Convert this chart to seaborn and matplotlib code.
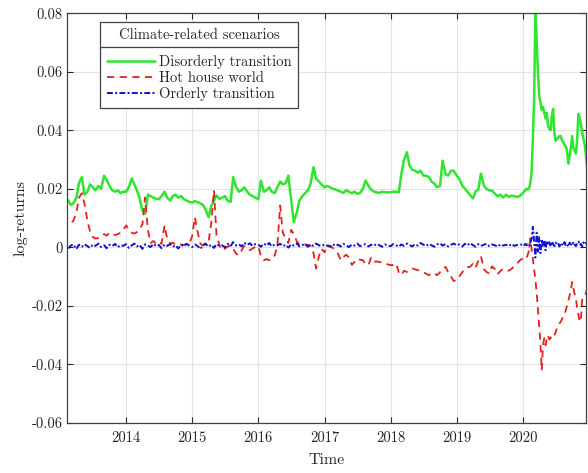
#Load the libraries
import pandas as pd
import matplotlib
matplotlib.use("Agg")
import matplotlib.pyplot as plt
from matplotlib.lines import Line2D
import seaborn as sns

#Data: semi-monthly 2013-2019, weekly 2020
dates = pd.date_range("2013-01-01", "2019-12-31", freq="SMS").append(
    pd.date_range("2020-01-01", periods=52, freq="7D"))

disorderly = [
    # 2013
    0.017, 0.0165, 0.017, 0.016, 0.0145, 0.015, 0.017, 0.022, 0.024, 0.018, 0.019, 0.0215,
    0.0205, 0.0195, 0.021, 0.020, 0.0245, 0.023, 0.021, 0.0195, 0.019, 0.0195, 0.0185, 0.019,
    # 2014
    0.019, 0.0205, 0.0235, 0.0215, 0.0195, 0.017, 0.0125, 0.0115, 0.018, 0.0175, 0.017, 0.0165,
    0.0165, 0.0175, 0.019, 0.017, 0.016, 0.0175, 0.018, 0.017, 0.0175, 0.0165, 0.016, 0.0155,
    # 2015
    0.0153, 0.0158, 0.0154, 0.015, 0.0145, 0.013, 0.0103, 0.014, 0.016, 0.0177, 0.0165, 0.017,
    0.0175, 0.016, 0.0155, 0.024, 0.0205, 0.019, 0.0195, 0.0205, 0.019, 0.018, 0.0175, 0.017,
    # 2016
    0.0164, 0.0228, 0.019, 0.0195, 0.0205, 0.019, 0.0185, 0.0205, 0.0225, 0.0215, 0.022, 0.0245,
    0.016, 0.0086, 0.012, 0.016, 0.0175, 0.0185, 0.0195, 0.0215, 0.0274, 0.0235, 0.0225, 0.0215,
    # 2017
    0.0205, 0.021, 0.0205, 0.020, 0.0198, 0.0194, 0.019, 0.0186, 0.0195, 0.019, 0.0185, 0.019,
    0.0183, 0.0185, 0.020, 0.0228, 0.021, 0.0198, 0.019, 0.0188, 0.0186, 0.019, 0.0188, 0.0188,
    # 2018
    0.0188, 0.019, 0.019, 0.0188, 0.0249, 0.0296, 0.0325, 0.028, 0.0265, 0.0262, 0.0255, 0.0262,
    0.0245, 0.0245, 0.024, 0.0225, 0.0217, 0.0205, 0.021, 0.0296, 0.025, 0.0245, 0.0262, 0.0262,
    # 2019
    0.0245, 0.0235, 0.021, 0.0201, 0.019, 0.018, 0.0167, 0.019, 0.0198, 0.0252, 0.021, 0.020,
    0.0194, 0.0194, 0.0183, 0.0175, 0.018, 0.017, 0.018, 0.0172, 0.0177, 0.0175, 0.0172, 0.0175,
    # 2020 (weekly)
    0.0185, 0.019, 0.0195, 0.020, 0.0198, 0.0201, 0.022, 0.0257, 0.037, 0.050, 0.0805, 0.071,
    0.060, 0.052, 0.0495, 0.047, 0.048, 0.046, 0.044, 0.046, 0.0415, 0.0405, 0.040, 0.045,
    0.0473, 0.039, 0.0364, 0.037, 0.0375, 0.038, 0.038, 0.0365, 0.036, 0.035, 0.0345, 0.033,
    0.0286, 0.031, 0.034, 0.038, 0.034, 0.033, 0.032, 0.037, 0.0456, 0.044, 0.042, 0.039,
    0.037, 0.035, 0.031, 0.027,
]

hot_house = [
    # 2013
    0.007, 0.0075, 0.0078, 0.0082, 0.0085, 0.009, 0.012, 0.017, 0.0185, 0.015, 0.009, 0.0055,
    0.0035, 0.003, 0.0032, 0.0038, 0.0045, 0.004, 0.005, 0.0047, 0.0042, 0.0045, 0.005, 0.006,
    # 2014
    0.0075, 0.006, 0.005, 0.0047, 0.0052, 0.006, 0.008, 0.017, 0.006, 0.0015, 0.0022, 0.0012,
    0.0018, 0.0012, 0.0075, 0.003, 0.0013, 0.0016, 0.0009, 0.0012, 0.001, 0.0008, 0.0012, 0.001,
    # 2015
    0.004, 0.0103, 0.0048, 0.0012, 0.0006, 0.001, 0.002, 0.0078, 0.0195, 0.004, 0.0006, -0.001,
    -0.0004, 0.0002, 0.0007, -0.0005, -0.0022, -0.0027, -0.001, 0.0005, -0.0003, -0.001, -0.0004, 0.0002,
    # 2016
    0.0004, -0.003, -0.0044, -0.004, -0.0044, -0.004, -0.0027, 0.0006, 0.0143, 0.005, 0.003, 0.0015,
    0.006, 0.0045, 0.002, 0.001, 0.0006, 0.001, 0.0008, 0.0006, -0.002, -0.0072, -0.003, -0.0005,
    # 2017
    -0.0017, 0.0008, 0.0004, -0.0002, -0.0008, -0.002, -0.0044, -0.0033, -0.0025, -0.0035, -0.006, -0.005,
    -0.0039, -0.0042, -0.0044, -0.0058, -0.006, -0.0035, -0.005, -0.0048, -0.005, -0.0052, -0.0055, -0.0058,
    # 2018
    -0.0061, -0.006, -0.0055, -0.0085, -0.0095, -0.008, -0.0084, -0.0078, -0.0072, -0.0075, -0.0078, -0.008,
    -0.0084, -0.009, -0.0095, -0.0088, -0.009, -0.0095, -0.0085, -0.0073, -0.0067, -0.0085, -0.010, -0.0115,
    # 2019
    -0.0112, -0.010, -0.0085, -0.0072, -0.0068, -0.0067, -0.0056, -0.007, -0.0045, -0.003, -0.0075, -0.0084,
    -0.009, -0.0065, -0.0075, -0.0092, -0.008, -0.0073, -0.0078, -0.008, -0.0073, -0.0065, -0.0055, -0.0045,
    # 2020 (weekly)
    -0.0038, -0.0035, -0.0039, -0.0037, -0.0025, -0.001, 0.003, -0.0005, -0.004, -0.0075, -0.011, -0.0155,
    -0.021, -0.027, -0.033, -0.042, -0.0335, -0.031, -0.0334, -0.031, -0.030, -0.0315, -0.031, -0.030,
    -0.0305, -0.030, -0.029, -0.0277, -0.027, -0.026, -0.0254, -0.0245, -0.0235, -0.023, -0.0215, -0.0198,
    -0.018, -0.0165, -0.0145, -0.0118, -0.014, -0.016, -0.0175, -0.0209, -0.023, -0.0255, -0.024, -0.0175,
    -0.017, -0.0165, -0.0155, -0.0141,
]

orderly = [
    # 2013
    0.0008, 0.0003, 0.0012, -0.0004, 0.0006, 0.0010, -0.0006, 0.0009, 0.0002, 0.0011, 0.0004, -0.0002,
    0.0010, 0.0005, 0.0013, 0.0001, 0.0007, -0.0003, 0.0009, 0.0004, 0.0012, 0.0000, 0.0008, 0.0005,
    # 2014
    0.0011, -0.0002, 0.0007, 0.0013, 0.0003, 0.0009, -0.0005, 0.0010, 0.0006, 0.0001, 0.0012, 0.0004,
    0.0008, -0.0003, 0.0010, 0.0005, 0.0011, 0.0002, 0.0007, -0.0004, 0.0009, 0.0003, 0.0012, 0.0006,
    # 2015
    0.0001, 0.0010, 0.0004, -0.0006, 0.0008, 0.0013, 0.0002, 0.0009, -0.0002, 0.0011, 0.0005, 0.0007,
    0.0000, 0.0012, 0.0004, 0.0018, 0.0006, 0.0010, 0.0003, 0.0016, 0.0008, 0.0014, 0.0005, 0.0011,
    # 2016
    0.0009, 0.0002, 0.0013, 0.0006, 0.0015, 0.0003, 0.0010, 0.0007, 0.0012, 0.0004, 0.0009, -0.0001,
    0.0011, 0.0006, 0.0014, 0.0003, 0.0008, 0.0012, 0.0002, 0.0010, 0.0005, 0.0013, 0.0007, 0.0004,
    # 2017
    0.0010, 0.0006, 0.0002, 0.0011, 0.0005, 0.0009, 0.0003, 0.0012, 0.0007, 0.0001, 0.0010, 0.0006,
    0.0013, 0.0004, 0.0008, 0.0011, 0.0003, 0.0009, 0.0005, 0.0012, 0.0007, 0.0002, 0.0010, 0.0006,
    # 2018
    0.0004, 0.0011, 0.0007, 0.0002, 0.0010, 0.0005, 0.0013, 0.0008, 0.0003, 0.0011, 0.0006, 0.0015,
    0.0009, 0.0004, 0.0012, 0.0007, 0.0002, 0.0010, 0.0014, 0.0006, 0.0011, 0.0003, 0.0009, 0.0013,
    # 2019
    0.0007, 0.0010, 0.0003, 0.0012, 0.0006, 0.0015, 0.0008, 0.0002, 0.0011, 0.0005, 0.0009, 0.0013,
    0.0004, 0.0010, 0.0007, 0.0002, 0.0011, 0.0006, 0.0009, 0.0004, 0.0012, 0.0005, 0.0008, 0.0010,
    # 2020 (weekly)
    0.0009, 0.0005, 0.0012, 0.0007, 0.0010, 0.0003, 0.0014, 0.0030, 0.0070, 0.0020, -0.0035, 0.0050,
    -0.0015, 0.0035, -0.0020, 0.0028, 0.0005, 0.0025, -0.0010, 0.0022, 0.0008, 0.0018, 0.0002, 0.0020,
    0.0011, 0.0004, 0.0016, 0.0009, 0.0013, 0.0003, 0.0015, 0.0010, 0.0005, 0.0018, 0.0008, 0.0012,
    0.0002, 0.0016, 0.0011, 0.0006, 0.0019, 0.0009, 0.0004, 0.0014, 0.0020, 0.0007, 0.0012, 0.0003,
    0.0017, 0.0010, 0.0015, 0.0008,
]

series_names = ["Disorderly transition", "Hot house world", "Orderly transition"]
year_ticks = ["2014", "2015", "2016", "2017", "2018", "2019", "2020"]
y_ticks = [-0.06, -0.04, -0.02, 0, 0.02, 0.04, 0.06, 0.08]
y_tick_labels = ["-0.06", "-0.04", "-0.02", "0", "0.02", "0.04", "0.06", "0.08"]

df = pd.DataFrame({"Time": dates,
                   series_names[0]: disorderly,
                   series_names[1]: hot_house,
                   series_names[2]: orderly})

#Style
sns.set_style("ticks")
plt.rcParams["font.family"] = ["cmr10", "DejaVu Serif"]
plt.rcParams["axes.unicode_minus"] = False

fig = plt.figure(figsize=(5.88, 4.73), dpi=100)
ax = fig.add_axes([0.114, 0.1057, 0.8827, 0.8665])

sns.lineplot(data=df, x="Time", y=series_names[0], ax=ax, color="#2ee62e",
             linewidth=1.8, label=series_names[0])
sns.lineplot(data=df, x="Time", y=series_names[1], ax=ax, color="#e8201c",
             linewidth=1.3, linestyle=(0, (4, 3)), label=series_names[1])
sns.lineplot(data=df, x="Time", y=series_names[2], ax=ax, color="#1010d0",
             linewidth=1.4, linestyle=(0, (3, 1.2, 1, 1.2)), label=series_names[2])

ax.set_xlim(pd.Timestamp("2013-02-08"), pd.Timestamp("2020-12-16"))
ax.set_ylim(-0.06, 0.08)
ax.set_xticks([pd.Timestamp(y + "-01-01") for y in year_ticks])
ax.set_xticklabels(year_ticks)
ax.set_yticks(y_ticks)
ax.set_yticklabels(y_tick_labels)
ax.tick_params(direction="in", length=4, width=0.8, top=True, right=True,
               labelsize=10.5, colors="#262626")
ax.tick_params(axis="x", pad=6)
ax.tick_params(axis="y", pad=3)
ax.grid(True, color="#e3e3e3", linewidth=0.8)
ax.set_axisbelow(True)
for sp in ax.spines.values():
    sp.set_color("#404040")
    sp.set_linewidth(0.9)

ax.set_xlabel("Time", fontsize=11.5, labelpad=6)
ax.set_ylabel("log-returns", fontsize=11.5, labelpad=3)

leg = ax.legend(title="Climate-related scenarios", loc="upper left",
                bbox_to_anchor=(0.064, 0.978), borderaxespad=0,
                fontsize=10.5, title_fontsize=10.5, fancybox=False,
                edgecolor="#404040", framealpha=1, handlelength=3.3,
                handletextpad=0.3, labelspacing=0.15, borderpad=0.45)
leg.get_frame().set_linewidth(0.9)
leg._legend_box.sep = 9

#Separator line under the legend title
fig.canvas.draw()
r = fig.canvas.get_renderer()
fb = leg.get_frame().get_window_extent(r)
tb = leg.get_title().get_window_extent(r)
inv = fig.transFigure.inverted()
ysep = tb.y0 - 5
(x0, y0) = inv.transform((fb.x0, ysep))
(x1, _) = inv.transform((fb.x1, ysep))
fig.add_artist(Line2D([x0, x1], [y0, y0], transform=fig.transFigure,
                      color="#404040", linewidth=0.9))

fig.savefig("out.png", dpi=100)
